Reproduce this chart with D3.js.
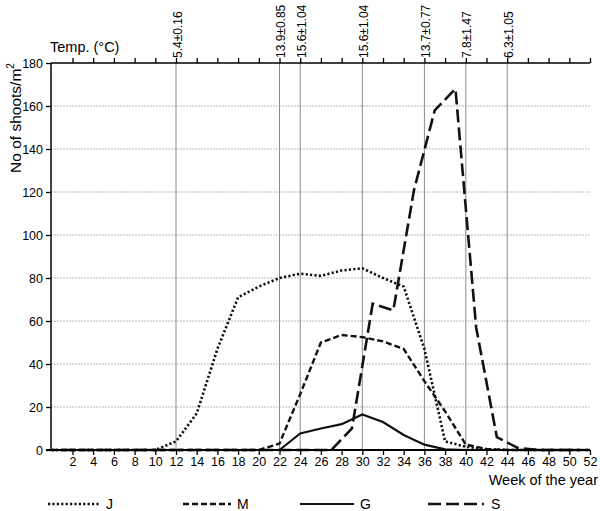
<!DOCTYPE html>
<html><head><meta charset="utf-8">
<script src="https://cdn.jsdelivr.net/npm/d3@7"></script>
<style>body{margin:0;background:#fff}svg{display:block;font-family:"Liberation Sans",Arial,sans-serif}</style>
</head><body><svg id="c" width="600" height="511"></svg>
<script>
const weeksEven = [0,2,4,6,8,10,12,14,16,18,20,22,24,26,28,30,32,34,36,38,40,42,44,46,48,50,52];
const valJ = [0,0,0,0,0,0,4,17,47,71,76,80,82,81,83.5,84.5,80,76,47,4,1.5,0.3,0,0,0,0,0];
const valM = [0,0,0,0,0,0,0,0,0,0,0,3,26,50,53.5,52.5,50.5,47,32,18,2.5,0.5,0,0,0,0,0];
const valG = [0,0,0,0,0,0,0,0,0,0,0,0,7.7,10,12,16.5,13,7,2.5,0.3,0,0,0,0,0,0,0];
const weeksOdd = [1,3,5,7,9,11,13,15,17,19,21,23,25,27,29,31,33,35,37,39,41,43,45,47,49,51];
const valS = [0,0,0,0,0,0,0,0,0,0,0,0,0,0,10,68,65,121,158,168,57,6,1,0,0,0];
const tempWeeks = [12,22,24,30,36,40,44];
const tempLabels = ["5.4±0.16","13.9±0.85","15.6±1.04","15.6±1.04","13.7±0.77","7.8±1.47","6.3±1.05"];
const xTicks = [2,4,6,8,10,12,14,16,18,20,22,24,26,28,30,32,34,36,38,40,42,44,46,48,50,52];
const yTicks = [0,20,40,60,80,100,120,140,160,180];
const seriesNames = ["J","M","G","S"];

const svg = d3.select("#c");
const x = d3.scaleLinear().domain([0,52]).range([51.8,590]);
const y = d3.scaleLinear().domain([0,180]).range([450,63]);
const styles = {
  J:{dash:"2.2,2.2",w:2.6},
  M:{dash:"6,3",w:2.4},
  G:{dash:null,w:2.2},
  S:{dash:"13,5",w:2.6}
};

// grid
svg.append("g").selectAll("line").data(yTicks.filter(d=>d>0&&d<180)).join("line")
  .attr("x1",51).attr("x2",590).attr("y1",d=>y(d)).attr("y2",d=>y(d))
  .attr("stroke","#b8b8b8").attr("stroke-width",1).attr("stroke-dasharray","2,1");

// temperature lines
svg.append("g").selectAll("line").data(tempWeeks).join("line")
  .attr("x1",d=>x(d)).attr("x2",d=>x(d)).attr("y1",63).attr("y2",450)
  .attr("stroke","#8a8a8a").attr("stroke-width",1);

// top axis
const topAx = svg.append("g").attr("transform","translate(0,63)")
  .call(d3.axisTop(x).tickValues(xTicks).tickSize(5).tickFormat(""));
topAx.select(".domain").attr("stroke","#000").attr("stroke-width",1.5).attr("d","M51,0H590");
topAx.selectAll(".tick line").attr("stroke","#000").attr("stroke-width",1.3);

// temp labels
svg.append("g").selectAll("text").data(tempWeeks).join("text")
  .attr("transform",d=>`translate(${x(d)+5.5},58) rotate(-90)`)
  .attr("font-size",12).attr("text-anchor","start")
  .text((d,i)=>tempLabels[i]);

svg.append("text").attr("x",50).attr("y",52).attr("font-size",14.5).text("Temp. (°C)");

// lines
const line = d3.line().x(d=>x(d[0])).y(d=>y(d[1]));
const data = {
  J: weeksEven.map((w,i)=>[w,valJ[i]]),
  M: weeksEven.map((w,i)=>[w,valM[i]]),
  G: weeksEven.map((w,i)=>[w,valG[i]]),
  S: weeksOdd.map((w,i)=>[w,valS[i]])
};
["S","J","M","G"].forEach(k=>{
  svg.append("path").attr("d",line(data[k])).attr("fill","none")
    .attr("stroke","#111").attr("stroke-width",styles[k].w)
    .attr("stroke-dasharray",styles[k].dash);
});

// bottom axis
const botAx = svg.append("g").attr("transform","translate(0,450)")
  .call(d3.axisBottom(x).tickValues(xTicks).tickSize(5).tickPadding(2));
botAx.select(".domain").attr("stroke","#000").attr("stroke-width",1.8).attr("d","M46,0H590");
botAx.selectAll(".tick line").attr("stroke","#000").attr("stroke-width",1.3);
botAx.selectAll("text").attr("font-size",12.5).attr("fill","#000").attr("font-family","Liberation Sans, Arial, sans-serif");

// left axis
const leftAx = svg.append("g").attr("transform","translate(51,0)")
  .call(d3.axisLeft(y).tickValues(yTicks).tickSize(5).tickPadding(3));
leftAx.select(".domain").attr("stroke","#000").attr("stroke-width",1.5).attr("d","M0,63V450");
leftAx.selectAll(".tick line").attr("stroke","#000").attr("stroke-width",1.3);
leftAx.selectAll("text").attr("font-size",12.5).attr("fill","#000").attr("font-family","Liberation Sans, Arial, sans-serif");

// y label
const yl = svg.append("text").attr("transform","translate(21,118) rotate(-90)")
  .attr("text-anchor","middle").attr("font-size",15.5);
yl.append("tspan").text("No of shoots/m");
yl.append("tspan").attr("font-size",10).attr("dy",-7).text("2");

svg.append("text").attr("x",598).attr("y",485).attr("text-anchor","end").attr("font-size",14.5).text("Week of the year");

// legend
const legX = [{x1:48,x2:100,tx:106},{x1:183,x2:231,tx:237},{x1:300,x2:354,tx:360},{x1:428,x2:484,tx:491}];
seriesNames.forEach((k,i)=>{
  const l = legX[i];
  svg.append("line").attr("x1",l.x1).attr("x2",l.x2).attr("y1",504).attr("y2",504)
    .attr("stroke","#111").attr("stroke-width",styles[k].w).attr("stroke-dasharray",styles[k].dash);
  svg.append("text").attr("x",l.tx).attr("y",509).attr("font-size",14).text(k);
});
</script></body></html>
